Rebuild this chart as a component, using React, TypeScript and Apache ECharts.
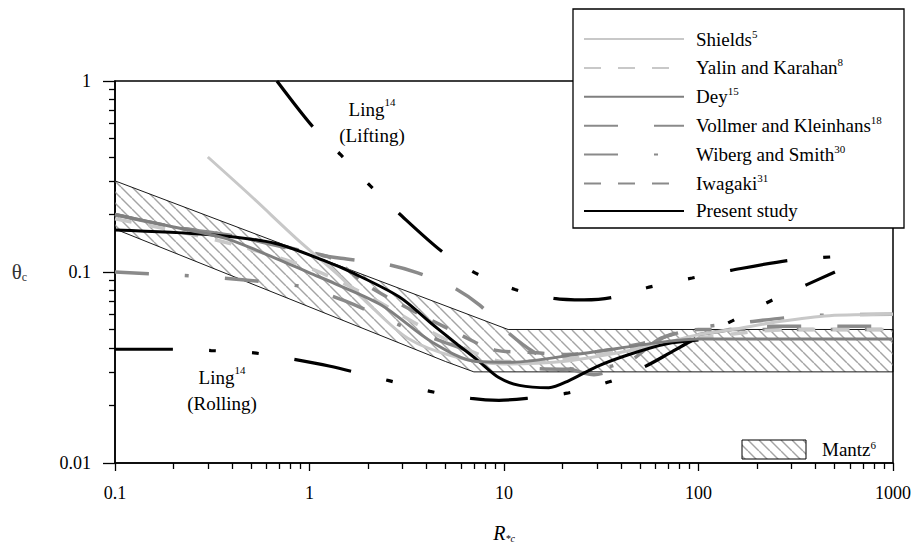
import React, { useEffect, useRef } from "react";
import * as echarts from "echarts";

// ---------- data ----------
const xTickLabels = ["0.1", "1", "10", "100", "1000"];
const yTickLabels = ["0.01", "0.1", "1"];
const xMajorTicks = [0.1, 1, 10, 100, 1000];
const yMajorTicks = [0.01, 0.1, 1];
const xMinorTicks = [0.2, 0.3, 0.4, 0.5, 0.6, 0.7, 0.8, 0.9, 2, 3, 4, 5, 6, 7, 8, 9, 20, 30, 40, 50, 60, 70, 80, 90, 200, 300, 400, 500, 600, 700, 800, 900];
const yMinorTicks = [0.02, 0.03, 0.04, 0.05, 0.06, 0.07, 0.08, 0.09, 0.2, 0.3, 0.4, 0.5, 0.6, 0.7, 0.8, 0.9];

const shieldsX = [0.3, 0.5, 0.88, 1.4, 1.95, 3.2, 5.6, 10, 20, 40, 70, 100, 150, 260, 470, 1000];
const shieldsY = [0.4, 0.25, 0.146, 0.097, 0.07, 0.045, 0.036, 0.033, 0.034, 0.038, 0.043, 0.047, 0.05, 0.055, 0.059, 0.06];

const yalinX = [0.1, 0.2, 0.4, 1, 2, 4, 7, 10, 20, 50, 100, 300, 1000];
const yalinY = [0.19, 0.165, 0.14, 0.105, 0.075, 0.05, 0.038, 0.034, 0.035, 0.04, 0.045, 0.05, 0.05];

const deyX = [0.1, 0.2, 0.37, 0.67, 1, 1.35, 2.35, 4.26, 7.2, 11, 24, 68, 100, 1000];
const deyY = [0.2, 0.172, 0.15, 0.118, 0.099, 0.087, 0.067, 0.043, 0.034, 0.0337, 0.0372, 0.0432, 0.0446, 0.0446];

const vollmerX = [0.1, 0.2, 0.43, 0.98, 1.45, 2.47, 3.6, 5.5, 7.5, 10.3, 14.3, 20.5, 29, 44, 68, 99, 216, 1000];
const vollmerY = [0.2, 0.172, 0.153, 0.126, 0.118, 0.11, 0.099, 0.083, 0.067, 0.049, 0.038, 0.032, 0.029, 0.034, 0.046, 0.047, 0.052, 0.052];

const wibergX = [0.1, 0.22, 0.45, 0.9, 1.5, 3, 6, 12, 20, 35, 50, 68, 100, 160, 370, 1000];
const wibergY = [0.1, 0.096, 0.091, 0.084, 0.071, 0.052, 0.04, 0.032, 0.031, 0.032, 0.038, 0.046, 0.051, 0.054, 0.059, 0.06];

const iwagakiX = [0.1, 0.2, 0.3, 0.43, 0.64, 0.95, 1.3, 2.1, 6.2, 9, 13.4, 21, 50, 100, 1000];
const iwagakiY = [0.2, 0.172, 0.162, 0.153, 0.141, 0.128, 0.118, 0.082, 0.046, 0.039, 0.038, 0.037, 0.042, 0.05, 0.05];

const presentX = [0.1, 0.3, 0.67, 1.26, 1.6, 2.9, 4.3, 5.9, 7.2, 9.4, 12, 17, 21.6, 30, 44, 68, 100];
const presentY = [0.166, 0.157, 0.141, 0.112, 0.101, 0.074, 0.053, 0.041, 0.035, 0.028, 0.0255, 0.0248, 0.027, 0.032, 0.037, 0.042, 0.044];

const liftingX = [0.68, 1.04, 1.45, 2.05, 2.88, 4.8, 7.1, 11.4, 18.1, 25.8, 35.9, 55.7, 92.7, 147, 292, 485];
const liftingY = [1, 0.576, 0.41, 0.283, 0.203, 0.128, 0.099, 0.081, 0.0727, 0.0714, 0.0735, 0.0833, 0.093, 0.102, 0.115, 0.12];

const rollingX = [0.1, 0.194, 0.312, 0.519, 0.833, 1.26, 2.56, 4.17, 6.77, 9.42, 13.1, 21.1, 34.7, 53.7, 71.3, 94.8, 149, 233, 361, 503];
const rollingY = [0.0394, 0.0394, 0.0388, 0.0377, 0.0349, 0.0322, 0.027, 0.0237, 0.0218, 0.0213, 0.0218, 0.0232, 0.0266, 0.0322, 0.0377, 0.0443, 0.0555, 0.0703, 0.0859, 0.1];

const mantzUpperX = [0.1, 10.5, 1000];
const mantzUpperY = [0.3, 0.05, 0.05];
const mantzLowerX = [0.1, 5, 7, 1000];
const mantzLowerY = [0.168, 0.034, 0.03, 0.03];

const legendNames = ["Shields", "Yalin and Karahan", "Dey", "Vollmer and Kleinhans", "Wiberg and Smith", "Iwagaki", "Present study"];
const legendRefs = ["5", "8", "15", "18", "30", "31", ""];

const SERIF = "'Liberation Serif', 'Times New Roman', serif";
const LIGHT = "#c8c8c8";
const MID = "#8a8a8a";
const DEY = "#7f7f7f";

function pairs(xs: number[], ys: number[]) {
  return xs.map((x, i) => [x, ys[i]]);
}

function makeHatch(color: string) {
  const c = document.createElement("canvas");
  const s = 11;
  c.width = s;
  c.height = s;
  const ctx = c.getContext("2d")!;
  ctx.strokeStyle = color;
  ctx.lineWidth = 1.4;
  ctx.beginPath();
  for (let k = -1; k <= 1; k++) {
    ctx.moveTo(k * s, 0);
    ctx.lineTo(k * s + s, s);
  }
  ctx.stroke();
  return c;
}

function lineSeries(name: string, xs: number[], ys: number[], color: string, width: number, type: any, z = 3, smooth: any = 0.3) {
  return {
    name,
    type: "line",
    data: pairs(xs, ys),
    symbol: "none",
    showSymbol: false,
    smooth,
    z,
    lineStyle: { color, width, type, cap: "butt" },
    itemStyle: { color },
  };
}

export default function App() {
  const ref = useRef<HTMLDivElement>(null);
  useEffect(() => {
    if (!ref.current) return;
    const chart = echarts.init(ref.current, undefined, { renderer: "svg" });
    const hatch = makeHatch("#a4a4a4");
    const tickLabel = (labels: string[], v: number) => {
      const l = Math.round(Math.log10(v));
      const found = labels.find((s) => Math.round(Math.log10(parseFloat(s))) === l);
      return found ?? "";
    };
    const baseX = { type: "log", logBase: 10, min: 0.1, max: 1000, splitLine: { show: false } };
    const baseY = { type: "log", logBase: 10, min: 0.01, max: 1, splitLine: { show: false } };
    const tickStyle = { color: "#000", width: 1.3 };
    const option: any = {
      animation: false,
      backgroundColor: "#fff",
      grid: { left: 115, right: 24, top: 81, bottom: 77, show: true, borderColor: "#000", borderWidth: 1.5, backgroundColor: "transparent" },
      xAxis: [
        {
          ...baseX,
          name: "{r|R}{s|*c}",
          nameLocation: "middle",
          nameGap: 60,
          nameTextStyle: { rich: { r: { fontFamily: SERIF, fontSize: 20, fontStyle: "italic", color: "#000" }, s: { fontFamily: SERIF, fontSize: 10, fontStyle: "italic", color: "#000", verticalAlign: "bottom", padding: [8, 0, 0, 0] } } },
          axisLine: { show: true, lineStyle: { color: "#000", width: 1.5 } },
          axisTick: { show: true, inside: false, length: 8, customValues: xMajorTicks, lineStyle: tickStyle },
          axisLabel: { show: true, fontFamily: SERIF, fontSize: 18, color: "#000", margin: 21, customValues: xMajorTicks, formatter: (v: number) => tickLabel(xTickLabels, v) },
        },
        {
          ...baseX,
          position: "bottom",
          axisLine: { show: false },
          axisTick: { show: true, inside: false, length: 6, customValues: xMinorTicks, lineStyle: tickStyle },
          axisLabel: { show: false },
        },
      ],
      yAxis: [
        {
          ...baseY,
          name: "{t|θ}{s|c}",
          nameLocation: "middle",
          nameRotate: 0,
          nameGap: 88,
          nameTextStyle: { align: "right", rich: { t: { fontFamily: SERIF, fontSize: 21, color: "#333" }, s: { fontFamily: SERIF, fontSize: 12, color: "#333", verticalAlign: "bottom" } } },
          axisLine: { show: true, lineStyle: { color: "#000", width: 1.5 } },
          axisTick: { show: true, inside: false, length: 12, customValues: yMajorTicks, lineStyle: tickStyle },
          axisLabel: { show: true, fontFamily: SERIF, fontSize: 18, color: "#000", margin: 24, customValues: yMajorTicks, formatter: (v: number) => tickLabel(yTickLabels, v) },
        },
        {
          ...baseY,
          position: "left",
          axisLine: { show: false },
          axisTick: { show: true, inside: false, length: 6, customValues: yMinorTicks, lineStyle: tickStyle },
          axisLabel: { show: false },
        },
      ],
      legend: {
        data: legendNames,
        orient: "vertical",
        left: 583,
        top: 28,
        itemWidth: 100,
        itemHeight: 14,
        itemGap: 8.4,
        z: 10,
        padding: 0,
        selectedMode: false,
        itemStyle: { opacity: 0 },
        formatter: (name: string) => {
          const i = legendNames.indexOf(name);
          const sup = legendRefs[i];
          return sup ? `{n|${name}}{s|${sup}}` : `{n|${name}}`;
        },
        textStyle: {
          padding: [0, 0, 0, 7],
          rich: {
            n: { fontFamily: SERIF, fontSize: 19, lineHeight: 22, color: "#000" },
            s: { fontFamily: SERIF, fontSize: 11, lineHeight: 22, color: "#000", verticalAlign: "top", padding: [0, 0, 8, 0] },
          },
        },
      },
      graphic: [
        { type: "rect", z: 5, shape: { x: 573, y: 9, width: 331, height: 219 }, style: { fill: "#fff", stroke: "#000", lineWidth: 1.3 } },
        { type: "rect", z: 5, shape: { x: 742, y: 440, width: 64, height: 19 }, style: { fill: { image: hatch, repeat: "repeat" }, stroke: "#000", lineWidth: 1 } },
        { type: "text", z: 5, style: { x: 822, y: 449, text: "{n|Mantz}{s|6}", verticalAlign: "middle", rich: { n: { fontFamily: SERIF, fontSize: 19, color: "#000" }, s: { fontFamily: SERIF, fontSize: 11, color: "#000", verticalAlign: "top", padding: [0, 0, 8, 0] } } } },
        { type: "text", z: 5, style: { x: 372, y: 122, text: "{n|Ling}{s|14}\n{n|(Lifting)}", align: "center", verticalAlign: "middle", rich: { n: { fontFamily: SERIF, fontSize: 19, lineHeight: 26, color: "#000" }, s: { fontFamily: SERIF, fontSize: 11, lineHeight: 26, color: "#000", verticalAlign: "top" } } } },
        { type: "text", z: 5, style: { x: 222, y: 390, text: "{n|Ling}{s|14}\n{n|(Rolling)}", align: "center", verticalAlign: "middle", rich: { n: { fontFamily: SERIF, fontSize: 19, lineHeight: 26, color: "#000" }, s: { fontFamily: SERIF, fontSize: 11, lineHeight: 26, color: "#000", verticalAlign: "top" } } } },
      ],
      series: [
        {
          name: "Mantz",
          type: "custom",
          silent: true,
          z: 1,
          data: [[mantzUpperX[0], mantzUpperY[0]]],
          renderItem: (_p: any, api: any) => {
            const up = mantzUpperX.map((x, i) => api.coord([x, mantzUpperY[i]]));
            const lo = mantzLowerX.map((x, i) => api.coord([x, mantzLowerY[i]])).reverse();
            return {
              type: "polygon",
              shape: { points: up.concat(lo) },
              style: { fill: { image: hatch, repeat: "repeat" }, stroke: "#000", lineWidth: 0.9 },
            };
          },
        },
        lineSeries("LingLifting", liftingX, liftingY, "#000", 3.2, [58, 36, 7, 36, 7, 36], 2),
        lineSeries("LingRolling", rollingX, rollingY, "#000", 3.2, [58, 36, 7, 36, 7, 36], 2),
        lineSeries("Wiberg and Smith", wibergX, wibergY, MID, 3.5, [34, 36, 4, 36], 3),
        lineSeries("Vollmer and Kleinhans", vollmerX, vollmerY, MID, 3.5, [34, 36], 3),
        lineSeries("Iwagaki", iwagakiX, iwagakiY, MID, 3.5, [17, 17], 3),
        lineSeries("Yalin and Karahan", yalinX, yalinY, LIGHT, 3.5, [17, 17], 3),
        lineSeries("Shields", shieldsX, shieldsY, LIGHT, 3, "solid", 3),
        lineSeries("Present study", presentX, presentY, "#000", 3, "solid", 4),
        lineSeries("Dey", deyX, deyY, DEY, 3, "solid", 4),
      ],
    };
    chart.setOption(option);
    return () => chart.dispose();
  }, []);
  return <div ref={ref} style={{ position: "fixed", left: 0, top: 0, width: 917, height: 548 }} />;
}
